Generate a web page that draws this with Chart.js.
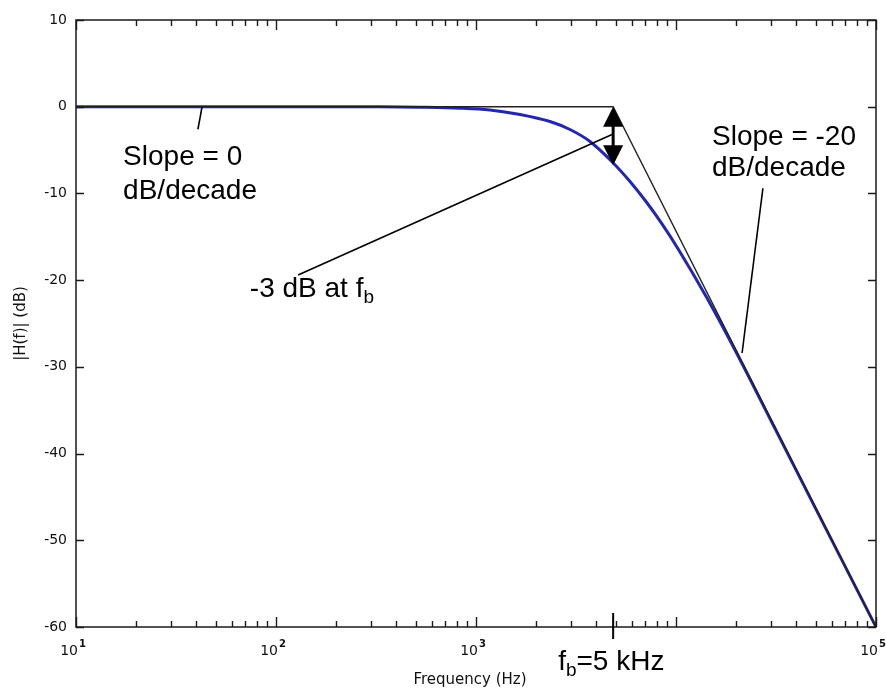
<!DOCTYPE html>
<html>
<head>
<meta charset="utf-8">
<script src="https://cdn.jsdelivr.net/npm/chart.js@4.4.0/dist/chart.umd.min.js"></script>
<style>
  body { margin: 0; background: #fff; }
  canvas { display: block; }
</style>
</head>
<body>
<canvas id="bodeChart" width="886" height="690"></canvas>
<script>
// values
const freqHz = [10, 100, 210, 331, 525, 832, 1175, 1660, 2344, 2951, 3715, 4786, 5888, 7079, 8511, 10233, 14289, 19724, 30000, 50000, 100000];
const magDb = [0, 0, 0, -0.01, -0.06, -0.17, -0.38, -0.9, -1.71, -2.63, -4.01, -6.34, -8.62, -10.93, -13.51, -16.37, -22.06, -28.06, -36.3, -46.37, -60];

// straight-line asymptote
const asymFreq = [10, 4850, 100000];
const asymDb = [0, 0, -60];

// axis ticks
const yTicks = [10, 0, -10, -20, -30, -40, -50, -60];
const xDecades = [10, 100, 1000, 10000, 100000];
const xLabelDecades = [10, 100, 1000, 100000];   // 10^4 is hidden under the fb note
const xExponents = ['1', '2', '3', '5'];

const fbMark = 4850;   // where the break freq is marked
const fbDrop = -6.75;  // curve level under the arrow

const tickFont = '14px "DejaVu Sans"';
const noteFont = '28px "Liberation Sans"';
const subFont = '19px "Liberation Sans"';

function toPoints(xs, ys) {
    return xs.map((v, i) => ({ x: v, y: ys[i] }));
}

// frame, inward ticks, labels and the notes
const decorations = {
    id: 'decorations',
    afterDatasetsDraw(chart) {
        const ctx = chart.ctx;
        const a = chart.chartArea;
        const x = chart.scales.x;
        const y = chart.scales.y;
        const at = (f, db) => [x.getPixelForValue(f), y.getPixelForValue(db)];

        ctx.save();
        ctx.strokeStyle = '#1a1a1a';
        ctx.lineWidth = 1.5;
        ctx.strokeRect(a.left, a.top, a.right - a.left, a.bottom - a.top);

        // x ticks, top and bottom
        ctx.lineWidth = 1.4;
        xDecades.forEach((dec, i) => {
            const last = i === xDecades.length - 1;
            for (let m = 1; m <= (last ? 1 : 9); m++) {
                const px = Math.round(x.getPixelForValue(dec * m)) + 0.5;
                const len = m === 1 ? 10 : 6;
                ctx.beginPath();
                ctx.moveTo(px, a.bottom); ctx.lineTo(px, a.bottom - len);
                ctx.moveTo(px, a.top); ctx.lineTo(px, a.top + len);
                ctx.stroke();
            }
        });

        // y ticks, left and right
        yTicks.forEach(v => {
            const py = Math.round(y.getPixelForValue(v)) + 0.5;
            ctx.beginPath();
            ctx.moveTo(a.left, py); ctx.lineTo(a.left + 8, py);
            ctx.moveTo(a.right, py); ctx.lineTo(a.right - 8, py);
            ctx.stroke();
        });

        // tick labels
        ctx.fillStyle = '#111';
        ctx.font = tickFont;
        ctx.textAlign = 'right';
        ctx.textBaseline = 'middle';
        yTicks.forEach(v => {
            ctx.fillText(String(v), a.left - 9, y.getPixelForValue(v));
        });

        ctx.textBaseline = 'alphabetic';
        xLabelDecades.forEach((dec, i) => {
            const px = x.getPixelForValue(dec);
            ctx.font = tickFont;
            ctx.textAlign = 'right';
            ctx.fillText('10', px + 2, a.bottom + 28);
            ctx.font = 'bold 10px "DejaVu Sans"';
            ctx.textAlign = 'left';
            ctx.fillText(xExponents[i], px + 3, a.bottom + 20);
        });

        // axis titles
        ctx.font = '15px "DejaVu Sans"';
        ctx.textAlign = 'center';
        ctx.fillText('Frequency (Hz)', (a.left + a.right) / 2 - 6, a.bottom + 57);
        ctx.save();
        ctx.translate(21, (a.top + a.bottom) / 2);
        ctx.rotate(-Math.PI / 2);
        ctx.textBaseline = 'middle';
        ctx.fillText('|H(f)| (dB)', 0, 0);
        ctx.restore();

        // leader lines
        ctx.strokeStyle = '#000';
        ctx.lineWidth = 1.6;
        const lead = (f1, d1, f2, d2) => {
            const p = at(f1, d1), q = at(f2, d2);
            ctx.beginPath(); ctx.moveTo(p[0], p[1]); ctx.lineTo(q[0], q[1]); ctx.stroke();
        };
        lead(42.7, 0, 40.7, -2.6);
        lead(27200, -9.4, 21400, -28.4);
        lead(129, -19.4, fbMark, -3.15);

        // double arrow at the break frequency
        const top = at(fbMark, 0), bot = at(fbMark, fbDrop);
        const ax = top[0];
        ctx.lineWidth = 3;
        ctx.beginPath(); ctx.moveTo(ax, top[1] + 12); ctx.lineTo(ax, bot[1] - 12); ctx.stroke();
        ctx.fillStyle = '#000';
        ctx.beginPath();
        ctx.moveTo(ax, top[1]); ctx.lineTo(ax - 10, top[1] + 20); ctx.lineTo(ax + 10, top[1] + 20);
        ctx.closePath(); ctx.fill();
        ctx.beginPath();
        ctx.moveTo(ax, bot[1]); ctx.lineTo(ax - 10, bot[1] - 20); ctx.lineTo(ax + 10, bot[1] - 20);
        ctx.closePath(); ctx.fill();

        // long tick for fb on the x axis
        ctx.lineWidth = 2;
        ctx.beginPath(); ctx.moveTo(ax, a.bottom - 14); ctx.lineTo(ax, a.bottom + 12); ctx.stroke();

        // note texts
        ctx.textAlign = 'left';
        ctx.textBaseline = 'alphabetic';
        ctx.font = noteFont;
        let p = at(17.2, -6.7);
        ctx.fillText('Slope = 0', p[0], p[1]);
        ctx.fillText('dB/decade', p[0], p[1] + 34);

        p = at(15140, -4.4);
        ctx.fillText('Slope = -20', p[0], p[1]);
        ctx.fillText('dB/decade', p[0], p[1] + 31);

        const subText = (main, sub, after, px, py) => {
            ctx.font = noteFont;
            ctx.fillText(main, px, py);
            let w = ctx.measureText(main).width;
            ctx.font = subFont;
            ctx.fillText(sub, px + w, py + 6);
            w += ctx.measureText(sub).width;
            if (after) {
                ctx.font = noteFont;
                ctx.fillText(after, px + w, py);
            }
        };
        p = at(74, -21.9);
        subText('-3 dB at f', 'b', '', p[0], p[1]);
        subText('f', 'b', '=5 kHz', ax - 55, a.bottom + 43);

        ctx.restore();
    }
};

new Chart(document.getElementById('bodeChart'), {
    type: 'line',
    data: {
        datasets: [
            {
                label: 'asymptote',
                data: toPoints(asymFreq, asymDb),
                borderColor: '#222',
                borderWidth: 1.4,
                pointRadius: 0,
                tension: 0
            },
            {
                label: '|H(f)|',
                data: toPoints(freqHz, magDb),
                borderColor: '#2326b0',
                borderWidth: 3,
                pointRadius: 0,
                cubicInterpolationMode: 'monotone'
            }
        ]
    },
    options: {
        responsive: false,
        animation: false,
        layout: { padding: { left: 76, top: 20, right: 10, bottom: 63 } },
        plugins: {
            legend: { display: false },
            tooltip: { enabled: false }
        },
        scales: {
            x: { type: 'logarithmic', min: 10, max: 100000, display: false },
            y: { type: 'linear', min: -60, max: 10, display: false }
        }
    },
    plugins: [decorations]
});
</script>
</body>
</html>
